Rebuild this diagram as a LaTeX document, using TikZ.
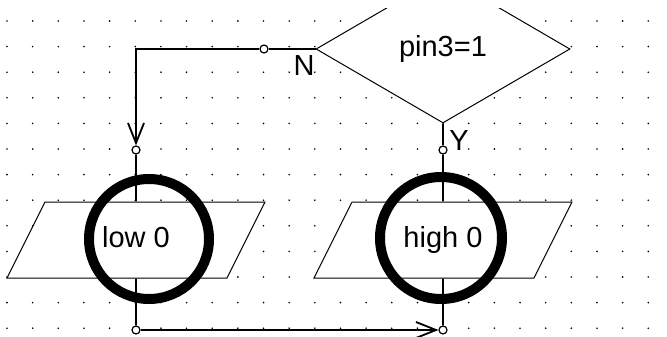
\documentclass[tikz,border=0pt]{standalone}
\usepackage{fontspec}
\setmainfont{Liberation Sans}
\usetikzlibrary{shapes.geometric,arrows.meta}
\tikzset{
  flow/.style={line width=1.8pt},
  joint/.style={circle,draw,fill=white,line width=1.2pt,inner sep=0pt,minimum size=8pt},
  iobox/.style={trapezium,trapezium left angle=63.4,trapezium right angle=116.6,
    trapezium stretches body,draw,fill=white,line width=1pt,
    text height=21pt,text depth=6pt,inner ysep=24.5pt,inner xsep=4pt,
    minimum width=258pt},
  ring/.style={circle,draw,line width=10pt,inner sep=0pt,minimum size=#1},
  barb/.style={-{Straight Barb[length=20pt,width=16pt]}}
}
\begin{document}
\begin{tikzpicture}[x=1pt, y=-1pt, font=\fontsize{29}{34}\selectfont]
    \useasboundingbox (0,0) rectangle (667,337);
    \foreach \i in {0,...,25}
      \foreach \j in {0,...,12}
        \fill (7+25.65*\i, 21+25.6*\j) circle (0.9);
    \begin{scope}
      \clip (0,9) rectangle (667,337);
      \node[diamond,draw,fill=white,line width=1pt,inner sep=0pt,
        minimum width=254pt,minimum height=148pt] (test) at (443,49) {pin3=1};
    \end{scope}
    \node[iobox] (low) at (136,240) {low 0};
    \node[iobox] (high) at (443,240) {high 0};
    \node[joint] (jn) at (264,49) {};
    \node[joint] (jl) at (136,150) {};
    \node[joint] (jy) at (443,150) {};
    \node[joint] (jb) at (136,330) {};
    \node[joint] (je) at (443,330) {};
    \draw[flow] (test.west) -- (jn);
    \draw[flow,barb] (jn) -| (jl);
    \draw[flow] (jl) -- (low.north);
    \draw[flow] (test.south) -- (jy);
    \draw[flow] (jy) -- (high.north);
    \draw[flow] (low.south) -- (jb);
    \draw[flow] (high.south) -- (je);
    \draw[flow,barb] (jb) -- (je);
    \node (nlabel) at (304,66) {N};
    \node (ylabel) at (459,141) {Y};
    \node[ring=120pt] (lowring) at (149,239) {};
    \node[ring=122pt] (highring) at (441,238) {};
\end{tikzpicture}
\end{document}
